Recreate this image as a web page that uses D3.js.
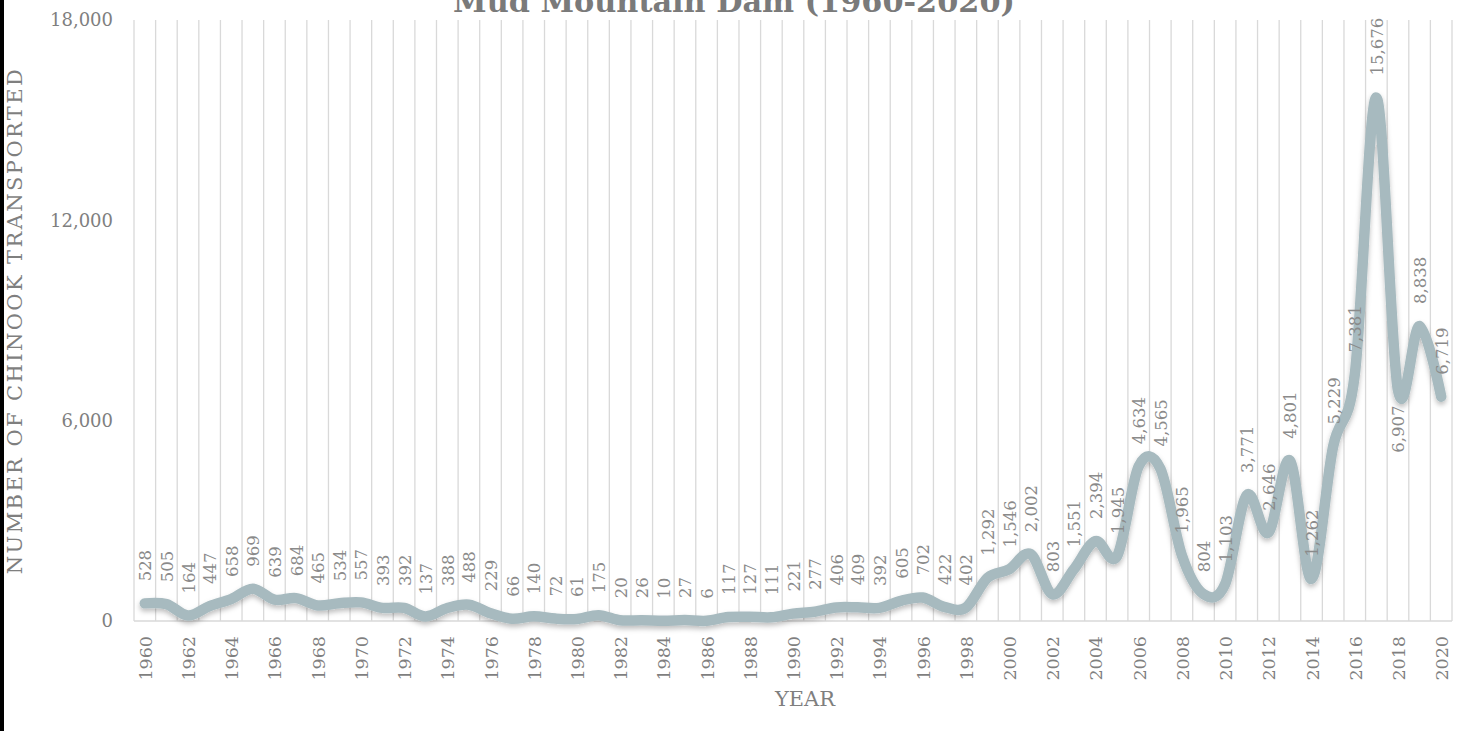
<!DOCTYPE html>
<html>
<head>
<meta charset="utf-8">
<script src="https://cdn.jsdelivr.net/npm/d3@7"></script>
<style>
  html, body { margin: 0; padding: 0; background: #ffffff; }
  svg { display: block; }
</style>
</head>
<body>
<svg id="chart" width="1457" height="731"></svg>
<script>
// ---- data ----
const years = d3.range(1960, 2021);
const chinook = [
  528, 505, 164, 447, 658, 969, 639, 684, 465, 534,
  557, 393, 392, 137, 388, 488, 229, 66, 140, 72,
  61, 175, 20, 26, 10, 27, 6, 117, 127, 111,
  221, 277, 406, 409, 392, 605, 702, 422, 402, 1292,
  1546, 2002, 803, 1551, 2394, 1945, 4634, 4565, 1965, 804,
  1103, 3771, 2646, 4801, 1262, 5229, 7381, 15676, 6907, 8838,
  6719
];
const yTicks = [0, 6000, 12000, 18000];
const xTickYears = years.filter(y => (y - 1960) % 2 === 0);
const labelsBelow = [2018];
const titleText = "Mud Mountain Dam (1960-2020)";
const yTitle = "NUMBER OF CHINOOK TRANSPORTED";
const xTitle = "YEAR";

// ---- layout ----
const W = 1457, H = 731;
const plot = { left: 134, right: 1452, top: 20, bottom: 621 };
const font = "'DejaVu Serif', 'Liberation Serif', serif";

const svg = d3.select("#chart");

// fit a text element's font size so it spans a target length
function fitText(sel, target) {
  const len = sel.node().getComputedTextLength();
  const fs = parseFloat(sel.attr("font-size"));
  sel.attr("font-size", (fs * target / len).toFixed(2));
}
// spread letters so a text spans a target length (wide serif look)
function spreadText(sel, target) {
  const len = sel.node().getComputedTextLength();
  const n = sel.text().length;
  sel.attr("letter-spacing", ((target - len) / (n - 1)).toFixed(2));
}

// left dark strip from the reference
svg.append("rect").attr("x", 0).attr("y", 0).attr("width", 4).attr("height", H).attr("fill", "#000");

const x = d3.scaleBand().domain(years).range([plot.left, plot.right]).padding(0);
const y = d3.scaleLinear().domain([0, 18000]).range([plot.bottom, plot.top]);
const cx = d => x(d) + x.bandwidth() / 2;

// vertical gridlines at category boundaries
const bounds = years.map(d => x(d)).concat([plot.right]);
svg.append("g").selectAll("line").data(bounds).join("line")
  .attr("x1", d => d).attr("x2", d => d)
  .attr("y1", plot.top).attr("y2", plot.bottom)
  .attr("stroke", "#d9d9d9").attr("stroke-width", 1.3);

// baseline
svg.append("line")
  .attr("x1", plot.left).attr("x2", plot.right)
  .attr("y1", plot.bottom).attr("y2", plot.bottom)
  .attr("stroke", "#d9d9d9").attr("stroke-width", 1.3);

// y axis labels
const yAxis = d3.axisLeft(y).tickValues(yTicks).tickFormat(d3.format(",")).tickSize(0).tickPadding(21);
const yg = svg.append("g").attr("transform", `translate(${plot.left},0)`).call(yAxis);
yg.select(".domain").remove();
yg.selectAll("text").attr("font-family", font).attr("font-size", 18).attr("fill", "#7f7f7f");

// x axis labels (rotated)
svg.append("g").selectAll("text").data(xTickYears).join("text")
  .attr("transform", d => `translate(${cx(d) + 1},${plot.bottom + 15}) rotate(-90)`)
  .attr("text-anchor", "end")
  .attr("dominant-baseline", "central")
  .attr("font-family", font).attr("font-size", 17.5).attr("fill", "#7f7f7f")
  .text(d => d);

// shadow filter
const defs = svg.append("defs");
const f = defs.append("filter").attr("id", "shadow").attr("x", "-10%").attr("y", "-10%").attr("width", "120%").attr("height", "130%");
f.append("feDropShadow").attr("dx", 0).attr("dy", 3).attr("stdDeviation", 2.5)
  .attr("flood-color", "#000").attr("flood-opacity", 0.25);

// line
const pts = years.map((yr, i) => ({ yr, v: chinook[i] }));
const line = d3.line().x(d => cx(d.yr)).y(d => y(d.v)).curve(d3.curveCatmullRom.alpha(0));
svg.append("path").datum(pts)
  .attr("d", line)
  .attr("fill", "none")
  .attr("stroke", "#a7babf")
  .attr("stroke-width", 10.5)
  .attr("stroke-linecap", "round")
  .attr("stroke-linejoin", "round")
  .attr("filter", "url(#shadow)");

// data labels
svg.append("g").selectAll("text").data(pts).join("text")
  .attr("transform", d => {
    const below = labelsBelow.includes(d.yr);
    return `translate(${cx(d.yr) + 1},${y(d.v) + (below ? 15 : -22)}) rotate(-90)`;
  })
  .attr("text-anchor", d => labelsBelow.includes(d.yr) ? "end" : "start")
  .attr("dominant-baseline", "central")
  .attr("font-family", font).attr("font-size", 16.5).attr("fill", "#8a8a8a")
  .text(d => d3.format(",")(d.v));

// title
const t = svg.append("text")
  .attr("x", 734).attr("y", 12)
  .attr("text-anchor", "middle")
  .attr("font-family", font).attr("font-weight", "bold").attr("font-size", 28)
  .attr("fill", "#7a7a7a")
  .text(titleText);
fitText(t, 562);

// axis titles
const yt = svg.append("text")
  .attr("transform", `translate(15,${(plot.top + plot.bottom) / 2}) rotate(-90)`)
  .attr("text-anchor", "middle").attr("dominant-baseline", "central")
  .attr("font-family", font).attr("font-size", 21).attr("fill", "#7f7f7f")
  .text(yTitle);
spreadText(yt, 505);

const xt = svg.append("text")
  .attr("x", 805).attr("y", 706)
  .attr("text-anchor", "middle")
  .attr("font-family", font).attr("font-size", 17).attr("fill", "#7f7f7f")
  .text(xTitle);
fitText(xt, 60);
</script>
</body>
</html>
